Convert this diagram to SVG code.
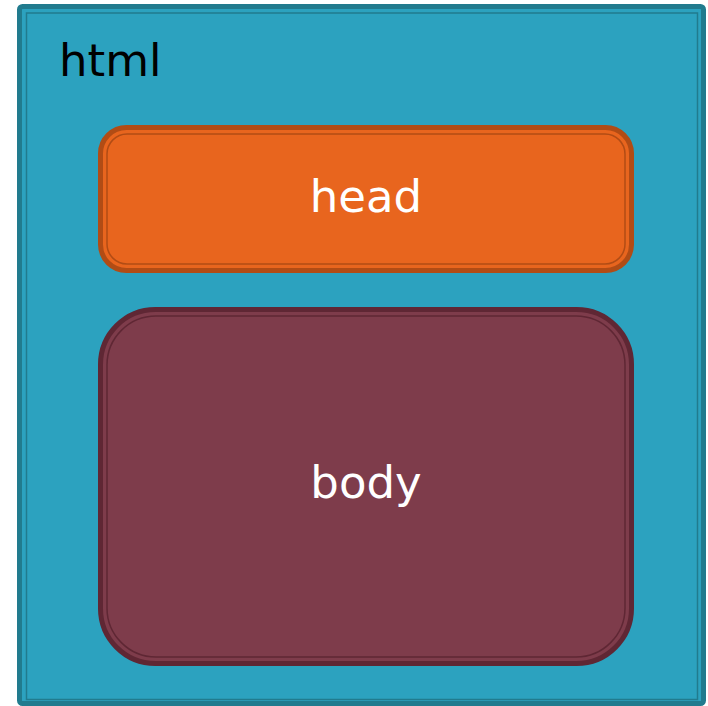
<svg xmlns="http://www.w3.org/2000/svg" width="708" height="706" viewBox="0 0 708 706">
<style>
text{font-family:"DejaVu Sans","Liberation Sans",sans-serif;font-size:45px}
.w{fill:#ffffff}
</style>
<rect width="708" height="706" fill="#ffffff"/>
<g id="html">
<rect x="19.5" y="6.5" width="684" height="697" rx="3" fill="#2ca2bf" stroke="#217b8e" stroke-width="5"/>
<rect x="26.5" y="13" width="671" height="686.5" fill="none" stroke="#217b8e" stroke-width="1.5"/>
<text x="59" y="76" fill="#000000">html</text>
</g>
<g id="head">
<rect x="100.5" y="127.5" width="531" height="143" rx="26" fill="#e8651e" stroke="#b14c15" stroke-width="5"/>
<rect x="107" y="134" width="518" height="130" rx="20" fill="none" stroke="#b14c15" stroke-width="1.5"/>
<text class="w" x="366" y="212" text-anchor="middle">head</text>
</g>
<g id="body">
<rect x="100.5" y="309.5" width="531" height="354" rx="55" fill="#7e3c4b" stroke="#5f2734" stroke-width="5"/>
<rect x="107" y="316" width="518" height="341" rx="49" fill="none" stroke="#5f2734" stroke-width="1.5"/>
<text class="w" x="366" y="498" text-anchor="middle">body</text>
</g>
</svg>
